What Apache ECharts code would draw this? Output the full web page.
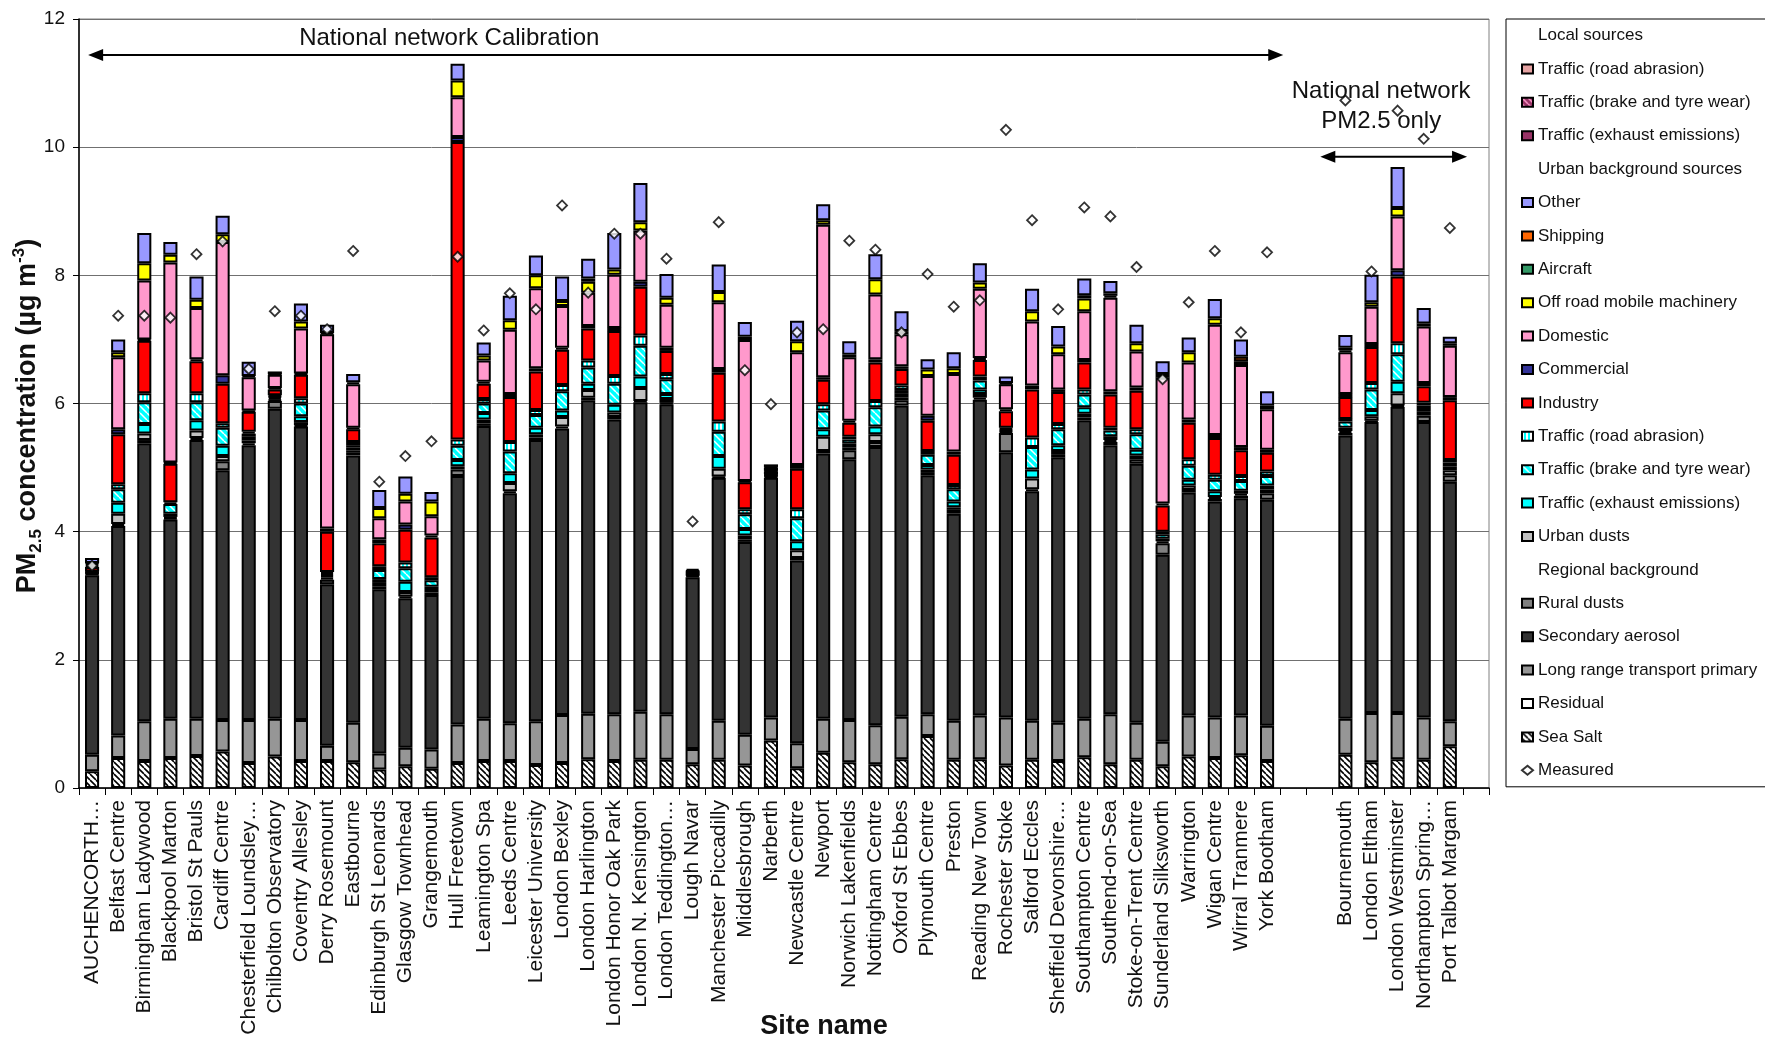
<!DOCTYPE html>
<html><head><meta charset="utf-8">
<script src="https://cdn.jsdelivr.net/npm/echarts@6/dist/echarts.min.js"></script>
<style>html,body{margin:0;padding:0;background:#fff}#c{width:1765px;height:1042px}</style>
</head><body><div id="c"></div>
<script>
// ---------- DATA ----------
const categories = ['AUCHENCORTH…','Belfast Centre','Birmingham Ladywood','Blackpool Marton','Bristol St Pauls','Cardiff Centre','Chesterfield Loundsley…','Chilbolton Observatory','Coventry Allesley','Derry Rosemount','Eastbourne','Edinburgh St Leonards','Glasgow Townhead','Grangemouth','Hull Freetown','Leamington Spa','Leeds Centre','Leicester University','London Bexley','London Harlington','London Honor Oak Park','London N. Kensington','London Teddington…','Lough Navar','Manchester Piccadilly','Middlesbrough','Narberth','Newcastle Centre','Newport','Norwich Lakenfields','Nottingham Centre','Oxford St Ebbes','Plymouth Centre','Preston','Reading New Town','Rochester Stoke','Salford Eccles','Sheffield Devonshire…','Southampton Centre','Southend-on-Sea','Stoke-on-Trent Centre','Sunderland Silksworth','Warrington','Wigan Centre','Wirral Tranmere','York Bootham',' ','  ','Bournemouth','London Eltham','London Westminster','Northampton Spring…','Port Talbot Margam','   '];

const yTicks = [0, 2, 4, 6, 8, 10, 12];

// Regional background
const seaSalt = [0.26,0.47,0.42,0.47,0.50,0.57,0.39,0.49,0.42,0.42,0.40,0.29,0.34,0.30,0.39,0.42,0.42,0.36,0.39,0.45,0.42,0.44,0.44,0.37,0.44,0.35,0.74,0.31,0.55,0.40,0.37,0.45,0.81,0.44,0.45,0.35,0.44,0.42,0.48,0.37,0.44,0.34,0.49,0.47,0.51,0.42,null,null,0.52,0.40,0.45,0.44,0.65,null];
const residual = [0,0,0,0,0,0,0,0,0,0,0,0,0,0,0,0,0,0,0,0,0,0,0,0,0,0,0,0,0,0,0,0,0,0,0,0,0,0,0,0,0,0,0,0,0,0,null,null,0,0,0,0,0,null];
const longRange = [0.26,0.35,0.62,0.61,0.58,0.49,0.67,0.59,0.64,0.24,0.62,0.25,0.29,0.30,0.60,0.66,0.59,0.68,0.75,0.71,0.73,0.75,0.71,0.24,0.61,0.48,0.36,0.39,0.53,0.66,0.61,0.66,0.34,0.61,0.68,0.75,0.61,0.60,0.60,0.78,0.58,0.38,0.64,0.63,0.62,0.55,null,null,0.56,0.77,0.72,0.66,0.39,null];
const secondary = [2.80,3.27,4.34,3.11,4.35,3.90,4.29,4.84,4.58,2.52,4.17,2.56,2.33,2.41,3.88,4.57,3.59,4.39,4.47,4.89,4.60,4.83,4.84,2.68,3.79,3.01,3.74,2.85,4.14,4.07,4.34,4.86,3.73,3.23,4.93,4.14,3.58,4.14,4.66,4.20,4.04,2.92,3.48,3.37,3.39,3.53,null,null,4.42,4.54,4.78,4.61,3.74,null];
const ruralDusts = [0.02,0.03,0.05,0.02,0.03,0.14,0.03,0.12,0.02,0.07,0.04,0.04,0.03,0.04,0.10,0.04,0.03,0.04,0.03,0.04,0.04,0.02,0.02,0.02,0.02,0.04,0.02,0.04,0.04,0.14,0.08,0.08,0.05,0.06,0.03,0.30,0.03,0.05,0.04,0.05,0.07,0.18,0.04,0.04,0.04,0.10,null,null,0.04,0.02,0.02,0.10,0.10,null];
// Urban background sources
const urbanDusts = [0.01,0.16,0.10,0.02,0.12,0.08,0.04,0.02,0.05,0.03,0.04,0.06,0.07,0.04,0.05,0.06,0.13,0.05,0.15,0.12,0.07,0.20,0.06,0.01,0.12,0.06,0.01,0.12,0.22,0.04,0.12,0.04,0.04,0.04,0.06,0.02,0.17,0.05,0.06,0.03,0.06,0.03,0.07,0.03,0.03,0.06,null,null,0.03,0.07,0.19,0.06,0.08,null];
const ubExhaust = [0.01,0.17,0.15,0.05,0.16,0.16,0.06,0.03,0.09,0.03,0.04,0.06,0.16,0.05,0.10,0.10,0.15,0.10,0.10,0.10,0.12,0.18,0.08,0.01,0.20,0.10,0.01,0.14,0.12,0.06,0.12,0.06,0.07,0.09,0.07,0.02,0.14,0.09,0.10,0.06,0.09,0.04,0.09,0.09,0.05,0.06,null,null,0.05,0.10,0.18,0.06,0.06,null];
const ubBrake = [0.01,0.21,0.34,0.15,0.28,0.28,0.05,0.02,0.20,0.03,0.04,0.14,0.21,0.10,0.22,0.15,0.34,0.20,0.30,0.25,0.33,0.48,0.23,0.01,0.38,0.23,0.01,0.36,0.29,0.07,0.30,0.06,0.16,0.19,0.14,0.02,0.35,0.25,0.20,0.09,0.24,0.07,0.22,0.18,0.15,0.15,null,null,0.10,0.32,0.43,0.04,0.06,null];
const ubRoad = [0.01,0.08,0.14,0.03,0.14,0.07,0.03,0.02,0.08,0.03,0.05,0.06,0.09,0.05,0.10,0.07,0.15,0.08,0.10,0.11,0.12,0.16,0.08,0.01,0.16,0.08,0.01,0.14,0.10,0.04,0.10,0.07,0.06,0.07,0.06,0.02,0.15,0.08,0.08,0.04,0.08,0.04,0.10,0.08,0.08,0.07,null,null,0.04,0.10,0.17,0.04,0.04,null];
const industry = [0.07,0.78,0.82,0.60,0.50,0.62,0.31,0.09,0.37,0.63,0.20,0.36,0.51,0.62,4.64,0.24,0.70,0.60,0.55,0.50,0.70,0.76,0.36,0.01,0.76,0.42,0.04,0.63,0.38,0.22,0.60,0.26,0.47,0.47,0.26,0.26,0.75,0.50,0.42,0.52,0.60,0.41,0.57,0.57,0.40,0.29,null,null,0.34,0.56,1.04,0.26,0.93,null];
const commercial = [0.02,0.08,0.02,0.02,0.03,0.13,0.02,0.02,0.02,0.05,0.02,0.06,0.08,0.03,0.08,0.03,0.05,0.05,0.03,0.04,0.05,0.08,0.05,0.01,0.06,0.02,0.01,0.06,0.04,0.03,0.05,0.04,0.08,0.05,0.03,0.03,0.06,0.04,0.04,0.05,0.05,0.03,0.05,0.05,0.05,0.05,null,null,0.05,0.05,0.10,0.05,0.05,null];
const domestic = [0.03,1.12,0.92,3.12,0.80,2.08,0.52,0.21,0.70,3.03,0.68,0.33,0.36,0.30,0.62,0.33,1.00,1.25,0.65,0.52,0.83,0.80,0.67,0.01,1.04,2.20,0.05,1.76,2.38,0.99,1.01,0.50,0.62,1.21,1.08,0.39,1.00,0.55,0.76,1.46,0.56,1.96,0.89,1.72,1.28,0.63,null,null,0.65,0.58,0.84,0.88,0.80,null];
const offRoad = [0.01,0.08,0.27,0.12,0.13,0.12,0.02,0.01,0.11,0.02,0.03,0.16,0.12,0.23,0.26,0.08,0.15,0.20,0.08,0.17,0.08,0.13,0.11,0.01,0.16,0.05,0.01,0.17,0.07,0.04,0.24,0.05,0.10,0.09,0.10,0.02,0.16,0.12,0.20,0.03,0.13,0.06,0.16,0.10,0.06,0.06,null,null,0.03,0.07,0.13,0.05,0.04,null];
const aircraft = [0,0,0,0,0,0,0,0,0,0,0,0,0,0,0,0,0,0,0,0.05,0,0,0,0,0,0,0,0,0,0,0,0,0,0,0,0,0,0,0,0.04,0,0,0,0,0,0,null,null,0.04,0,0,0,0,null];
const shipping = [0,0,0,0,0,0,0,0,0,0,0,0,0,0,0,0,0,0,0,0,0,0,0,0,0,0,0,0,0,0,0,0,0,0,0,0,0,0,0.05,0,0,0,0,0,0.07,0,null,null,0,0,0,0,0,null];
const other = [0.08,0.20,0.47,0.20,0.36,0.29,0.22,0.04,0.28,0.13,0.13,0.28,0.27,0.15,0.26,0.20,0.38,0.31,0.38,0.31,0.57,0.61,0.37,0.03,0.43,0.23,0.04,0.32,0.25,0.21,0.39,0.31,0.16,0.25,0.30,0.10,0.35,0.32,0.26,0.19,0.29,0.20,0.23,0.30,0.27,0.22,null,null,0.20,0.43,0.64,0.24,0.10,null];
// Local sources (not visible in any bar)
const localExhaust = [0,0,0,0,0,0,0,0,0,0,0,0,0,0,0,0,0,0,0,0,0,0,0,0,0,0,0,0,0,0,0,0,0,0,0,0,0,0,0,0,0,0,0,0,0,0,null,null,0,0,0,0,0,null];
const localBrake = [0,0,0,0,0,0,0,0,0,0,0,0,0,0,0,0,0,0,0,0,0,0,0,0,0,0,0,0,0,0,0,0,0,0,0,0,0,0,0,0,0,0,0,0,0,0,null,null,0,0,0,0,0,null];
const localRoad = [0,0,0,0,0,0,0,0,0,0,0,0,0,0,0,0,0,0,0,0,0,0,0,0,0,0,0,0,0,0,0,0,0,0,0,0,0,0,0,0,0,0,0,0,0,0,null,null,0,0,0,0,0,null];
// Measured PM2.5
const measured = [3.47,7.37,7.37,7.34,8.33,8.53,6.54,7.44,7.37,7.16,8.38,4.78,5.18,5.41,8.29,7.14,7.72,7.47,9.09,7.73,8.65,8.65,8.26,4.16,8.83,6.52,5.99,7.11,7.16,8.54,8.40,7.11,8.02,7.51,7.61,10.27,8.86,7.47,9.06,8.92,8.13,6.38,7.58,8.38,7.11,8.36,null,null,10.73,8.06,10.57,10.13,8.74,null];

// ---------- STYLE ----------
const F = "'Liberation Sans', Arial, sans-serif";
function pat(bg, fg, kind, size, lw) {
  const c = document.createElement('canvas'); c.width = size; c.height = size;
  const g = c.getContext('2d');
  g.fillStyle = bg; g.fillRect(0, 0, size, size);
  g.fillStyle = fg; g.strokeStyle = fg;
  if (kind === 'stripe') { g.fillRect(0, 0, Math.round(size / 2), size); }
  else {
    g.lineWidth = lw; g.beginPath();
    for (let k = -size; k <= size; k += size) { g.moveTo(k, 0); g.lineTo(k + size, size); }
    g.stroke();
  }
  return { image: c, repeat: 'repeat' };
}
const layers = [
  ['Sea Salt', seaSalt, pat('#ffffff', '#000000', 'diag', 6, 1.6)],
  ['Residual', residual, '#ffffff'],
  ['Long range transport primary', longRange, '#969696'],
  ['Secondary aerosol', secondary, '#333333'],
  ['Rural dusts', ruralDusts, '#808080'],
  ['Urban dusts', urbanDusts, '#C0C0C0'],
  ['Traffic (exhaust emissions)', ubExhaust, '#00FFFF'],
  ['Traffic (brake and tyre wear)', ubBrake, pat('#00FFFF', '#ffffff', 'diag', 7, 1.5)],
  ['Traffic (road abrasion)', ubRoad, pat('#00FFFF', '#ffffff', 'stripe', 4, 0)],
  ['Industry', industry, '#FF0000'],
  ['Commercial', commercial, '#333399'],
  ['Domestic', domestic, '#FF99CC'],
  ['Off road mobile machinery', offRoad, '#FFFF00'],
  ['Aircraft', aircraft, '#339966'],
  ['Shipping', shipping, '#FF6600'],
  ['Other', other, '#9999FF'],
  ['Traffic (exhaust emissions) ', localExhaust, '#993366'],
  ['Traffic (brake and tyre wear) ', localBrake, pat('#993366', '#FF99CC', 'diag', 6, 1.5)],
  ['Traffic (road abrasion) ', localRoad, '#E6A3A3']
];
const headings = ['Local sources', 'Urban background sources', 'Regional background'];

const series = layers.map(([name, arr, color]) => ({
  name, type: 'bar', stack: 'total', barWidth: '54%',
  data: arr.map(v => (v === null || v === 0) ? '-' : v),
  itemStyle: { color, borderColor: '#000', borderWidth: 2 },
  emphasis: { disabled: true }
}));
headings.forEach(name => series.push({ name, type: 'bar', stack: 'total', data: [] }));
series.push({
  name: 'Measured', type: 'scatter', symbol: 'diamond', symbolSize: 10, z: 10,
  data: measured.map(v => v === null ? '-' : v),
  itemStyle: { color: '#ffffff', borderColor: '#000', borderWidth: 1.8 },
  emphasis: { disabled: true }
});

const blank = { color: 'rgba(0,0,0,0)', borderColor: 'rgba(0,0,0,0)', borderWidth: 0 };
const legendOrder = ['Local sources', 'Traffic (road abrasion) ', 'Traffic (brake and tyre wear) ', 'Traffic (exhaust emissions) ',
  'Urban background sources', 'Other', 'Shipping', 'Aircraft', 'Off road mobile machinery', 'Domestic', 'Commercial', 'Industry',
  'Traffic (road abrasion)', 'Traffic (brake and tyre wear)', 'Traffic (exhaust emissions)', 'Urban dusts',
  'Regional background', 'Rural dusts', 'Secondary aerosol', 'Long range transport primary', 'Residual', 'Sea Salt', 'Measured'];
const legendData = legendOrder.map(n => headings.includes(n) ? { name: n, icon: 'rect', itemStyle: blank }
  : (n === 'Measured' ? { name: n, icon: 'diamond' } : { name: n, icon: 'rect' }));

const chart = echarts.init(document.getElementById('c'), null, { renderer: 'canvas' });
const option = {
  animation: false,
  backgroundColor: '#ffffff',
  grid: { left: 79, right: 276, top: 19, bottom: 254, show: true, borderColor: '#808080', borderWidth: 1 },
  legend: {
    orient: 'vertical', left: 1506, top: 19, padding: [8, 20, 8, 15],
    itemWidth: 11, itemHeight: 9, itemGap: 16.4, selectedMode: false,
    borderColor: '#000', borderWidth: 1, backgroundColor: '#fff',
    textStyle: { fontFamily: F, fontSize: 17, color: '#111', lineHeight: 17 },
    data: legendData
  },
  xAxis: {
    type: 'category', data: categories,
    axisLine: { lineStyle: { color: '#000', width: 1.5 } },
    axisTick: { show: true, interval: 0, length: 7, lineStyle: { color: '#000' } },
    axisLabel: { interval: 0, rotate: 90, fontFamily: F, fontSize: 21, color: '#111', margin: 12 }
  },
  yAxis: {
    type: 'value', min: yTicks[0], max: yTicks[yTicks.length - 1], interval: yTicks[1] - yTicks[0],
    axisLine: { show: true, lineStyle: { color: '#000', width: 1.5 } },
    axisTick: { show: true, length: 6, lineStyle: { color: '#000' } },
    axisLabel: { fontFamily: F, fontSize: 19, color: '#111', margin: 14 },
    splitLine: { lineStyle: { color: '#707070', width: 1 } }
  },
  series
};
chart.setOption(option);

// ---------- ANNOTATIONS (anchored to data coordinates) ----------
const annot = {
  calib: { from: -0.15, to: 45.62, y: 11.44, label: 'National network Calibration', labelAt: 13.68, labelY: 11.70 },
  pm25: { from: 47.04, to: 52.66, y: 9.85, label: 'National network\nPM2.5 only', labelAt: 49.37, labelY: 10.63 }
};
function P(ci, v) {
  const a = chart.convertToPixel({ gridIndex: 0 }, [0, v]);
  const b = chart.convertToPixel({ gridIndex: 0 }, [1, v]);
  return [a[0] + (b[0] - a[0]) * ci, a[1]];
}
const gfx = [];
Object.values(annot).forEach(a => {
  const p1 = P(a.from, a.y), p2 = P(a.to, a.y);
  const L = 15, H = 6;
  gfx.push({ type: 'line', shape: { x1: p1[0] + 8, y1: p1[1], x2: p2[0] - 8, y2: p2[1] }, style: { stroke: '#000', lineWidth: 2 }, z: 20 });
  gfx.push({ type: 'polygon', shape: { points: [[p1[0], p1[1]], [p1[0] + L, p1[1] - H], [p1[0] + L, p1[1] + H]] }, style: { fill: '#000' }, z: 20 });
  gfx.push({ type: 'polygon', shape: { points: [[p2[0], p2[1]], [p2[0] - L, p2[1] - H], [p2[0] - L, p2[1] + H]] }, style: { fill: '#000' }, z: 20 });
  const t = P(a.labelAt, a.labelY);
  gfx.push({ type: 'text', x: t[0], y: t[1], z: 20, style: { text: a.label, fontFamily: F, fontSize: 24, fill: '#111', align: 'center', verticalAlign: 'middle', lineHeight: 30 } });
});
// Axis titles
gfx.push({
  type: 'text', x: 28, y: 416, rotation: Math.PI / 2, z: 20,
  style: {
    text: '{a|PM}{s|2.5}{a| concentration (µg m}{p|-3}{a|)}',
    align: 'center', verticalAlign: 'middle',
    rich: {
      a: { fontFamily: F, fontSize: 27, fontWeight: 'bold', fill: '#111', lineHeight: 34, verticalAlign: 'middle' },
      s: { fontFamily: F, fontSize: 17, fontWeight: 'bold', fill: '#111', lineHeight: 17, verticalAlign: 'bottom' },
      p: { fontFamily: F, fontSize: 17, fontWeight: 'bold', fill: '#111', lineHeight: 17, verticalAlign: 'top' }
    }
  }
});
gfx.push({ type: 'text', x: 824, y: 1027, z: 20, style: { text: 'Site name', fontFamily: F, fontSize: 27, fontWeight: 'bold', fill: '#111', align: 'center', verticalAlign: 'middle' } });
chart.setOption({ graphic: gfx });
</script>
</body></html>
